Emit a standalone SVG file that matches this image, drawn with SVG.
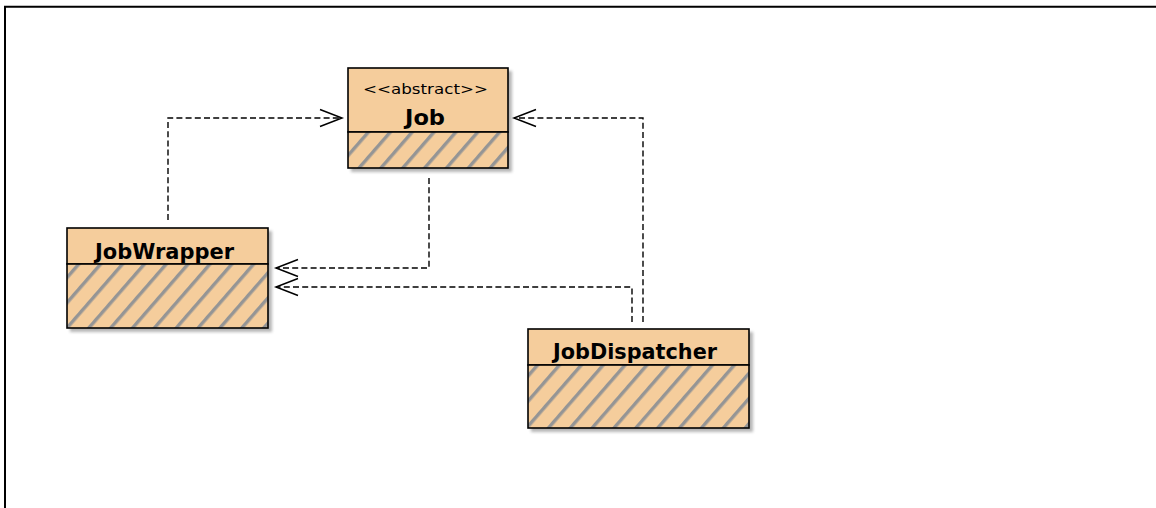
<svg xmlns="http://www.w3.org/2000/svg" width="1156" height="508" viewBox="0 0 1156 508">
<style>
.box{fill:#F5CD9C;stroke:#000;stroke-width:1.6}
.hatch{fill:url(#hatch);stroke:#000;stroke-width:1.6}
.shadow{fill:#7a7a7a;opacity:0.55;filter:url(#blur)}
.name{font-family:"DejaVu Sans",Verdana,sans-serif;font-weight:bold;font-size:21px;fill:#000;text-anchor:middle}
.stereo{font-family:"DejaVu Sans",Verdana,sans-serif;font-size:14.5px;fill:#000;text-anchor:middle}
.dep{fill:none;stroke:#000;stroke-width:1.4;stroke-dasharray:6 3.2;marker-end:url(#open)}
</style>
<defs>
<pattern id="hatch" patternUnits="userSpaceOnUse" width="16.5" height="16.5" patternTransform="rotate(41)">
<rect width="16.5" height="16.5" fill="#F5CD9C"/>
<rect x="0" y="0" width="3.4" height="16.5" fill="#959595"/>
</pattern>
<filter id="blur" x="-10%" y="-10%" width="120%" height="120%"><feGaussianBlur stdDeviation="1.4"/></filter>
<marker id="open" markerUnits="userSpaceOnUse" markerWidth="30" markerHeight="24" viewBox="-24 -12 30 24" refX="0" refY="0" orient="auto" overflow="visible">
<path d="M-22,-8.5 L0,0 L-22,8.5" fill="none" stroke="#000" stroke-width="1.5"/>
</marker>
</defs>
<rect width="1156" height="508" fill="#fff"/>
<path d="M5,508 V6.7 H1156" fill="none" stroke="#000" stroke-width="2"/>
<g id="connectors">
<path class="dep" d="M168,220 V118 H342"/>
<path class="dep" d="M429,178 V268 H276"/>
<path class="dep" d="M632,322 V287 H276"/>
<path class="dep" d="M643,322 V118 H514"/>
</g>
<g id="Job">
<rect class="shadow" x="351" y="71" width="161" height="101"/>
<rect class="box" x="348" y="68" width="160" height="64"/>
<rect class="hatch" x="348" y="132" width="160" height="36"/>
<text class="stereo" x="425.5" y="94" textLength="125" lengthAdjust="spacingAndGlyphs">&lt;&lt;abstract&gt;&gt;</text>
<text class="name" x="425" y="125" textLength="40" lengthAdjust="spacingAndGlyphs">Job</text>
</g>
<g id="JobWrapper">
<rect class="shadow" x="70" y="231" width="202" height="101"/>
<rect class="box" x="67" y="228" width="201" height="36"/>
<rect class="hatch" x="67" y="264" width="201" height="64"/>
<text class="name" x="164.5" y="259" textLength="139" lengthAdjust="spacingAndGlyphs">JobWrapper</text>
</g>
<g id="JobDispatcher">
<rect class="shadow" x="531" y="332" width="222" height="100"/>
<rect class="box" x="528" y="329" width="221" height="36"/>
<rect class="hatch" x="528" y="365" width="221" height="63"/>
<text class="name" x="635" y="359" textLength="164" lengthAdjust="spacingAndGlyphs">JobDispatcher</text>
</g>
</svg>
